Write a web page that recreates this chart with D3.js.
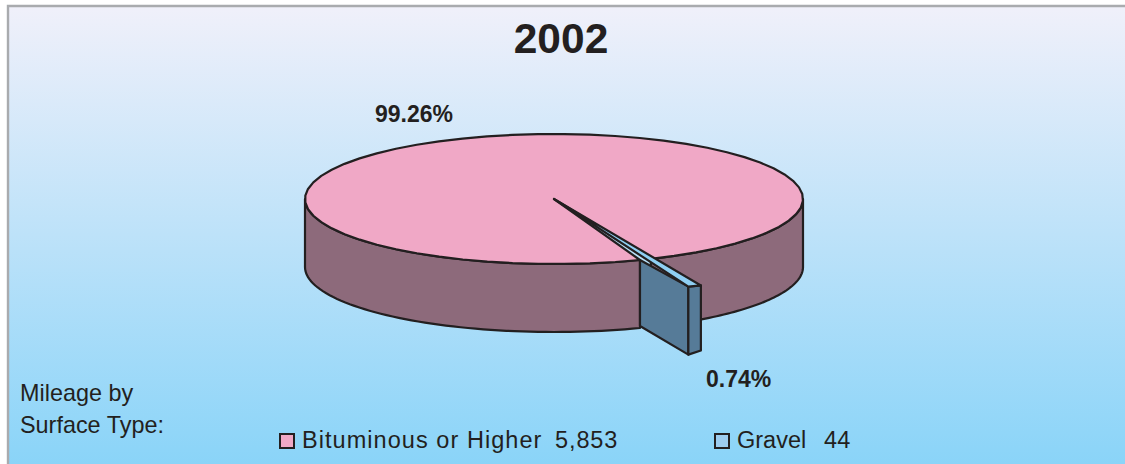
<!DOCTYPE html>
<html>
<head>
<meta charset="utf-8">
<script src="https://cdn.jsdelivr.net/npm/d3@7"></script>
<style>
html, body { margin: 0; padding: 0; background: #fff; }
svg { display: block; }
text { font-family: "Liberation Sans", Arial, sans-serif; fill: #231f20; }
</style>
</head>
<body>
<div id="chart"></div>
<script>
// values
const title = "2002";
const surfaces = ["Bituminous or Higher", "Gravel"];
const miles = [5853, 44];
const milesLabels = ["5,853", "44"];
const pctLabels = ["99.26%", "0.74%"];
const caption = ["Mileage by", "Surface Type:"];

const W = 1125, H = 464;
const topColor = ["#f0a8c6", "#8fcff3"];
const sideColor = ["#8d6a7b", "#567b98"];
const legendColor = ["#f0a8c6", "#9dcdf0"];
const line = "#231f20";

const svg = d3.select("#chart").append("svg").attr("width", W).attr("height", H);

// background panel, border only on top and left
const grad = svg.append("defs").append("linearGradient")
    .attr("id", "bg").attr("x1", 0).attr("y1", 0).attr("x2", 0).attr("y2", 1);
grad.append("stop").attr("offset", "0%").attr("stop-color", "#f0f0fa");
grad.append("stop").attr("offset", "100%").attr("stop-color", "#8ad4f8");

svg.append("rect")
    .attr("x", 8).attr("y", 6).attr("width", W - 8).attr("height", H - 6)
    .attr("fill", "url(#bg)");
svg.append("path")
    .attr("d", `M8,${H}V6H${W}`)
    .attr("fill", "none").attr("stroke", "#a9abae").attr("stroke-width", 2.4);

svg.append("text")
    .attr("x", 561).attr("y", 53)
    .attr("text-anchor", "middle")
    .attr("font-size", 42.5).attr("font-weight", "bold")
    .text(title);

// pie geometry
const cx = 554, cy = 199, rx = 249, ry = 65, depth = 68;
// gravel wedge is pulled out past the rim, and drawn a bit narrower than true
const wedgeRx = 383, wedgeRy = 93.6, wedgeNarrow = 0.75;
const rad = d => d * Math.PI / 180;

const arcs = d3.pie().sort(null).startAngle(rad(159.8)).endAngle(rad(159.8 + 360))(miles);
const pink = arcs[0], gravel = arcs[1];

const proj = (a, z = 0, ax = rx, ay = ry) => [cx + ax * Math.sin(a), cy - ay * Math.cos(a) + z];
const path = d3.line();
const sweep = (a0, a1, z) => d3.range(0, 61).map(i => proj(a0 + (a1 - a0) * i / 60, z));

function sidePath(a0, a1) {
    return path(sweep(a0, a1, 0).concat(sweep(a1, a0, depth))) + "Z";
}

const g = svg.append("g")
    .attr("stroke", line).attr("stroke-width", 2.2).attr("stroke-linejoin", "round");

// visible rim of the big slice, either side of the gravel wedge
g.append("path")
    .attr("d", sidePath(pink.startAngle, rad(270)))
    .attr("fill", sideColor[0]);
g.append("path")
    .attr("d", sidePath(rad(450), pink.endAngle))
    .attr("fill", sideColor[0]);

// top of the big slice
g.append("path")
    .attr("d", path([[cx, cy]].concat(sweep(pink.startAngle, pink.endAngle, 0))) + "Z")
    .attr("fill", topColor[0]);

// gravel wedge, angles wrapped back by a full turn
const mid = (gravel.startAngle + gravel.endAngle) / 2 - 2 * Math.PI;
const half = (gravel.endAngle - gravel.startAngle) / 2 * wedgeNarrow;
const outerR = proj(mid - half, 0, wedgeRx, wedgeRy), outerL = proj(mid + half, 0, wedgeRx, wedgeRy);
const down = (p, d = depth) => [p[0], p[1] + d];
const pinch = proj(pink.startAngle);

g.append("path")
    .attr("d", path([pinch, outerL, down(outerL), down(pinch, depth - 2)]) + "Z")
    .attr("fill", sideColor[1]);
g.append("path")
    .attr("d", path([outerL, outerR, down(outerR, depth - 3), down(outerL)]) + "Z")
    .attr("fill", sideColor[1]);
g.append("path")
    .attr("d", path([[cx, cy], outerL, outerR]) + "Z")
    .attr("fill", topColor[1]);

// percent labels
svg.selectAll(".pct").data(pctLabels).join("text")
    .attr("class", "pct")
    .attr("x", (d, i) => [375, 706][i])
    .attr("y", (d, i) => [122, 387][i])
    .attr("font-size", 23).attr("font-weight", "bold")
    .text(d => d);

svg.selectAll(".cap").data(caption).join("text")
    .attr("class", "cap")
    .attr("x", 20)
    .attr("y", (d, i) => 401 + i * 32)
    .attr("font-size", 23.4)
    .text(d => d);

// legend
const lg = svg.selectAll(".lg").data(surfaces).join("g")
    .attr("class", "lg")
    .attr("transform", (d, i) => `translate(${[280, 715][i]},434)`);
lg.append("rect")
    .attr("width", 14).attr("height", 14)
    .attr("fill", (d, i) => legendColor[i])
    .attr("stroke", line).attr("stroke-width", 2);
lg.append("text")
    .attr("x", 22).attr("y", 14)
    .attr("font-size", 23.5)
    .attr("letter-spacing", (d, i) => [1.05, 0][i])
    .text(d => d);
lg.append("text")
    .attr("x", (d, i) => [275, 109][i]).attr("y", 14)
    .attr("font-size", 23.5)
    .attr("letter-spacing", (d, i) => [0.9, 0.3][i])
    .text((d, i) => milesLabels[i]);
</script>
</body>
</html>
